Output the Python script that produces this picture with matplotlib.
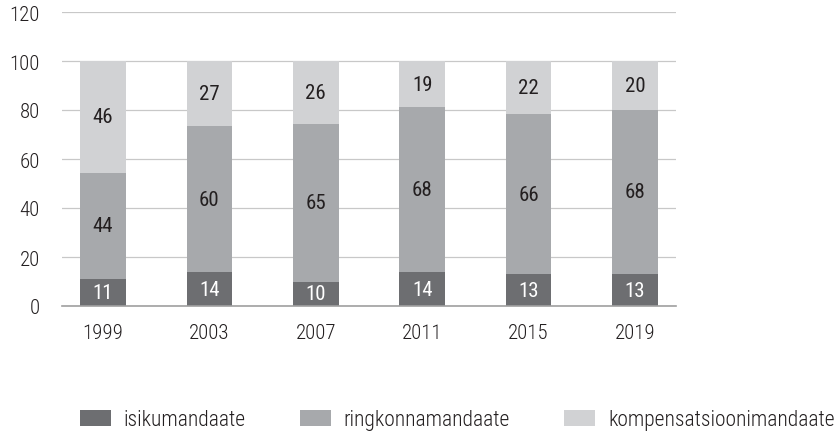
import matplotlib.pyplot as plt
import numpy as np

plt.rcParams['font.family'] = ['Roboto Condensed', 'Archivo Narrow', 'PT Sans Narrow',
                               'Liberation Sans Narrow', 'DejaVu Sans']

years = ['1999', '2003', '2007', '2011', '2015', '2019']
isiku = [11, 14, 10, 14, 13, 13]
ringkonna = [44, 60, 65, 68, 66, 68]
kompensatsiooni = [46, 27, 26, 19, 22, 20]

series = [
    ('isikumandaate', isiku, '#6d6e71', 'white'),
    ('ringkonnamandaate', ringkonna, '#a7a9ac', '#231f20'),
    ('kompensatsioonimandaate', kompensatsiooni, '#d1d2d4', '#231f20'),
]

fig = plt.figure(figsize=(8.34, 4.35), dpi=100)
ax = fig.add_axes([62 / 834, 128 / 435, 614 / 834, 294 / 435])

x = np.arange(len(years))
# shares rounded in source, scale bars so each reaches 100
total = np.array(isiku) + np.array(ringkonna) + np.array(kompensatsiooni)
bottom = np.zeros(len(years))
for name, vals, color, tcolor in series:
    h = np.array(vals) / total * 100
    ax.bar(x, h, width=0.43, bottom=bottom, color=color, label=name, zorder=2)
    for xi, b, hi, v in zip(x, bottom, h, vals):
        ax.text(xi, b + hi / 2, str(v), ha='center', va='center',
                fontsize=15, color=tcolor, zorder=3)
    bottom += h

ax.set_xlim(-0.385, 5.385)
ax.set_ylim(0, 120)
ax.set_yticks(range(0, 121, 20))
ax.set_xticks(x)
ax.set_xticklabels(years)
ax.yaxis.grid(True, color='#c8c8c8', linewidth=0.9, zorder=0)
ax.set_axisbelow(True)
for s in ['top', 'right', 'left']:
    ax.spines[s].set_visible(False)
ax.spines['bottom'].set_color('#a0a0a0')
ax.spines['bottom'].set_linewidth(1.2)
ax.tick_params(axis='both', length=0, labelsize=15, colors='#231f20')
ax.tick_params(axis='x', pad=12)
ax.tick_params(axis='y', pad=16)
for lab in ax.get_xticklabels() + ax.get_yticklabels():
    lab.set_fontweight('light')

leg = fig.legend(loc='center left', bbox_to_anchor=(80 / 834, 14 / 435), ncol=3,
                 frameon=False, borderaxespad=0, borderpad=0,
                 fontsize=15.5, handlelength=1.44, handleheight=0.75, handletextpad=0.6,
                 columnspacing=2.5, labelcolor='#231f20')
for t in leg.get_texts():
    t.set_fontweight('light')

plt.savefig('out.png')
